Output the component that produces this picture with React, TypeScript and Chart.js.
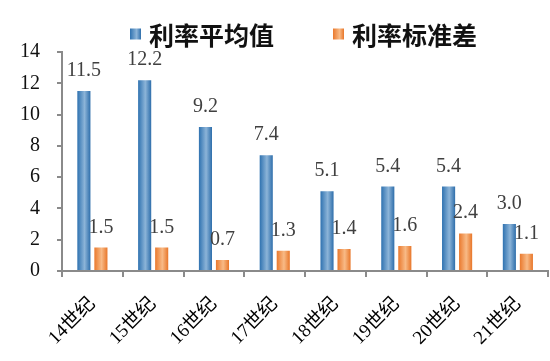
import { useEffect, useRef } from "react";
import { Chart, registerables } from "chart.js";

Chart.register(...registerables);

const categories = ["14世纪", "15世纪", "16世纪", "17世纪", "18世纪", "19世纪", "20世纪", "21世纪"];
const meanRates = [11.5, 12.2, 9.2, 7.4, 5.1, 5.4, 5.4, 3.0];
const stdRates = [1.5, 1.5, 0.7, 1.3, 1.4, 1.6, 2.4, 1.1];
const seriesNames = ["利率平均值", "利率标准差"];
const yMin = 0;
const yMax = 14;
const yStep = 2;

const CAT_PCT = 0.56;
const BAR_PCT = 0.77;

const gradStops = [
  ["#2F72B0", "#8CB4D8", "#2E6EAB"],
  ["#EA792D", "#F8BA86", "#E87629"],
];

function barGradient(c: any) {
  const chart = c.chart;
  const xs = chart.scales && chart.scales.x;
  const stops = gradStops[c.datasetIndex] || gradStops[0];
  if (!xs || c.dataIndex === undefined || !xs.width) return stops[0];
  const range = xs.width / categories.length;
  const slot = (range * CAT_PCT) / 2;
  const w = slot * BAR_PCT;
  const center = xs.getPixelForValue(c.dataIndex) - (range * CAT_PCT) / 2 + slot * (c.datasetIndex + 0.5);
  const g = chart.ctx.createLinearGradient(center - w / 2, 0, center + w / 2, 0);
  g.addColorStop(0, stops[0]);
  g.addColorStop(0.55, stops[1]);
  g.addColorStop(1, stops[2]);
  return g;
}

const valueLabels = {
  id: "valueLabels",
  afterDatasetsDraw(chart: any) {
    const ctx = chart.ctx;
    ctx.save();
    ctx.font = "20px 'Liberation Serif', 'Times New Roman', serif";
    ctx.fillStyle = "#404040";
    ctx.textAlign = "center";
    ctx.textBaseline = "alphabetic";
    chart.data.datasets.forEach((ds: any, di: number) => {
      const meta = chart.getDatasetMeta(di);
      meta.data.forEach((el: any, i: number) => {
        ctx.fillText(Number(ds.data[i]).toFixed(1), el.x, el.y - 15);
      });
    });
    ctx.restore();
  },
};

const LEGEND_X = [130, 333];
const LEGEND_Y = 34;
const LEGEND_BOX = 11;

const customLegend = {
  id: "customLegend",
  afterDraw(chart: any) {
    const ctx = chart.ctx;
    ctx.save();
    ctx.font = "bold 25px 'Noto Sans CJK SC', sans-serif";
    ctx.textBaseline = "middle";
    ctx.textAlign = "left";
    chart.data.datasets.forEach((ds: any, di: number) => {
      const x = LEGEND_X[di];
      const stops = gradStops[di];
      const g = ctx.createLinearGradient(x, 0, x + LEGEND_BOX, 0);
      g.addColorStop(0, stops[0]);
      g.addColorStop(0.6, stops[1]);
      g.addColorStop(1, stops[2]);
      ctx.fillStyle = g;
      ctx.fillRect(x, LEGEND_Y - LEGEND_BOX / 2, LEGEND_BOX, LEGEND_BOX);
      ctx.fillStyle = "#111";
      ctx.fillText(ds.label, x + LEGEND_BOX + 8, LEGEND_Y + 1);
    });
    ctx.restore();
  },
};

export default function App() {
  const ref = useRef<HTMLCanvasElement | null>(null);
  useEffect(() => {
    if (!ref.current) return;
    const chart = new Chart(ref.current, {
      type: "bar",
      data: {
        labels: categories,
        datasets: [
          {
            label: seriesNames[0],
            data: meanRates,
            backgroundColor: barGradient as any,
            borderWidth: 0,
            categoryPercentage: CAT_PCT,
            barPercentage: BAR_PCT,
          },
          {
            label: seriesNames[1],
            data: stdRates,
            backgroundColor: barGradient as any,
            borderWidth: 0,
            categoryPercentage: CAT_PCT,
            barPercentage: BAR_PCT,
          },
        ],
      },
      options: {
        animation: false,
        responsive: false,
        devicePixelRatio: 1,
        layout: { padding: { top: 52, right: 0, left: 0, bottom: 0 } },
        plugins: {
          legend: { display: false },
          tooltip: { enabled: false },
        },
        scales: {
          x: {
            grid: {
              offset: true,
              drawOnChartArea: false,
              tickLength: 6,
              color: "#8A8A8A",
              lineWidth: 2,
            },
            border: { color: "#8A8A8A", width: 2 },
            ticks: {
              autoSkip: false,
              maxRotation: 45,
              minRotation: 45,
              padding: 16,
              color: "#000",
              font: { size: 19, family: "'Liberation Serif', 'Noto Sans CJK SC', serif" },
            },
            afterFit: (s: any) => {
              s.height = 90;
            },
          },
          y: {
            min: yMin,
            max: yMax,
            ticks: {
              stepSize: yStep,
              padding: 17,
              color: "#111",
              font: { size: 20, family: "'Liberation Serif', 'Times New Roman', serif" },
            },
            grid: {
              drawOnChartArea: false,
              tickLength: 5,
              color: "#8A8A8A",
              lineWidth: 2,
            },
            border: { color: "#8A8A8A", width: 2 },
            afterFit: (s: any) => {
              s.width = 62;
            },
          },
        },
      },
      plugins: [valueLabels, customLegend],
    });
    return () => chart.destroy();
  }, []);
  return (
    <div style={{ position: "absolute", left: 0, top: 0, width: 550, height: 361, background: "#fff" }}>
      <canvas ref={ref} width={550} height={361} />
    </div>
  );
}
